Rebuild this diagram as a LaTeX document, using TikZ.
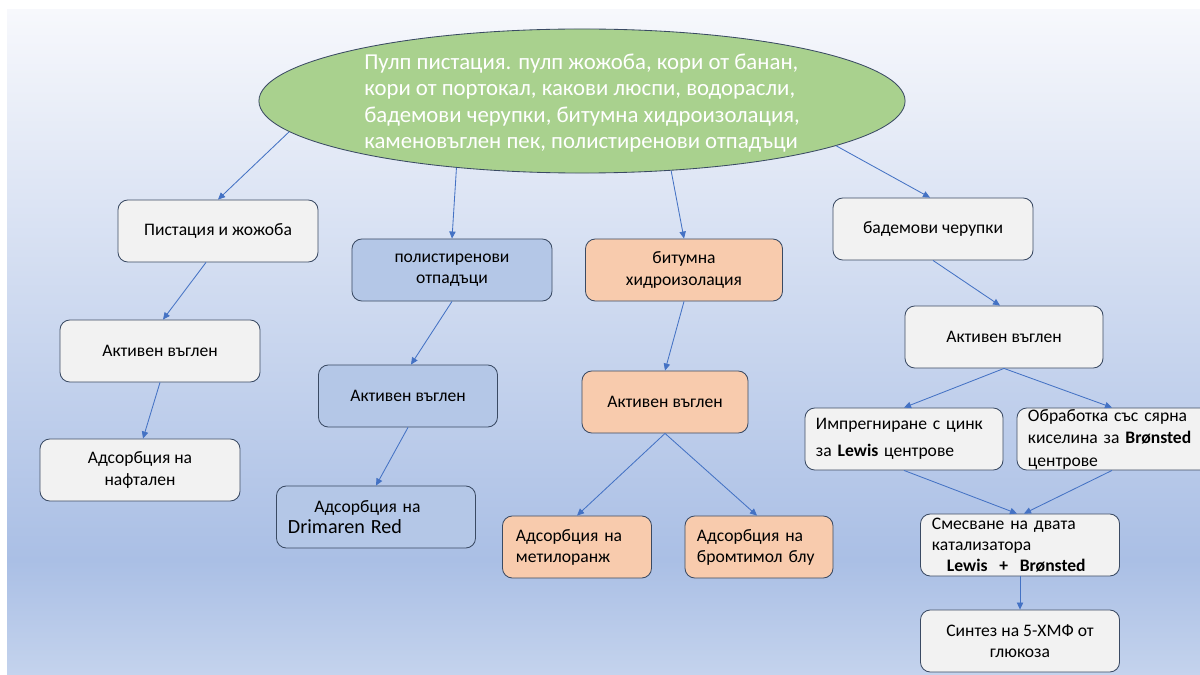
\documentclass[tikz,border=0pt]{standalone}
\usepackage{fontspec}
\setmainfont{Carlito}
\usetikzlibrary{shapes.geometric,arrows.meta,calc}
\definecolor{edge}{HTML}{3A4A63}
\definecolor{link}{HTML}{4472C4}
\definecolor{pale}{HTML}{F2F2F2}
\definecolor{steel}{HTML}{B4C7E7}
\definecolor{peach}{HTML}{F8CBAD}
\definecolor{leaf}{HTML}{A9D18E}
\definecolor{bgtop}{HTML}{F7F8FC}
\definecolor{bgmid}{HTML}{AABFE5}
\definecolor{bgbot}{HTML}{C4D3ED}
\tikzset{
  card/.style={draw=edge, line width=0.6pt, rounded corners=7pt, inner sep=0pt,
    minimum width=5cm, minimum height=1.55cm, align=center,
    font=\fontsize{12.5}{15}\selectfont},
  flow/.style={draw=link, line width=0.6pt, -{Triangle[length=5pt,width=4.5pt]}}
}
\begin{document}
\begin{tikzpicture}[x=0.025cm, y=-0.025cm]
\useasboundingbox (0,0) rectangle (1200,675);
\shade[top color=bgtop, bottom color=bgmid] (7,10) rectangle (1200,560);
\shade[top color=bgmid, bottom color=bgbot] (7,560) rectangle (1200,675);

\node[ellipse, draw=edge, fill=leaf, line width=0.6pt, inner sep=0pt,
  minimum width=16.15cm, minimum height=3.6cm] (src) at (582,101) {};
\node[text=white, align=left, font=\fontsize{16.2}{18.8}\selectfont] (srctxt) at (582,103)
  {Пулп пистация. пулп жожоба, кори от банан,\\
   кори от портокал, какови люспи, водорасли,\\
   бадемови черупки, битумна хидроизолация,\\
   каменовъглен пек, полистиренови отпадъци};

% left branch
\node[card, fill=pale] (pist) at (218,231) {Пистация и жожоба};
\node[card, fill=pale] (pistc) at (160,351) {Активен въглен};
\node[card, fill=pale] (naft) at (140,470) {Адсорбция на\\нафтален};

% polystyrene
\node[card, fill=steel] (poly) at (452,270) {полистиренови\\отпадъци};
\node[card, fill=steel, minimum width=4.475cm] (polyc) at (408,396) {Активен въглен};
\node[card, fill=steel, minimum width=4.975cm, align=left, text width=4.4cm] (drim) at (376,517)
  {\hspace*{0.66cm}Адсорбция на\\{\fontsize{14.3}{17}\selectfont Drimaren Red}};

% bitumen
\node[card, fill=peach, minimum width=4.925cm] (bit) at (684,270) {битумна\\хидроизолация};
\node[card, fill=peach, minimum width=4.15cm] (bitc) at (665,402) {Активен въглен};
\node[card, fill=peach, minimum width=3.725cm, align=left, text width=3.05cm] (metil) at (577,547)
  {Адсорбция на\\метилоранж};
\node[card, fill=peach, minimum width=3.7cm, align=left, text width=3.1cm] (brom) at (759,547)
  {Адсорбция на\\бромтимол блу};

% almond shells
\node[card, fill=pale] (badem) at (933,229) {бадемови черупки};
\node[card, fill=pale, minimum width=4.95cm] (bademc) at (1004,337) {Активен въглен};
\node[card, fill=pale, minimum width=4.95cm, align=left, text width=4.4cm,
  font=\fontsize{12.5}{19}\selectfont] (lewis) at (904,439)
  {Импрегниране с цинк\\за \textbf{Lewis} центрове};
\node[card, fill=pale, minimum width=4.95cm, align=left, text width=4.4cm,
  font=\fontsize{12.5}{16}\selectfont] (bron) at (1116,439)
  {Обработка със сярна\\киселина за \textbf{Brønsted}\\центрове};
\node[card, fill=pale, minimum width=4.975cm, align=left, text width=4.4cm] (mix) at (1020,545)
  {Смесване на двата\\катализатора\\\hspace*{0.375cm}\textbf{Lewis\ \ +\ \ Brønsted}};
\node[card, fill=pale, minimum width=4.975cm] (synth) at (1020,641) {Синтез на 5-ХМФ от\\глюкоза};

\draw[flow] (src.186) -- (pist.north);
\draw[flow] (src.208) -- (poly.north);
\draw[flow] (src.322) -- (bit.north);
\draw[flow] (src.350) -- ($(badem.north)+(-3,0)$);
\draw[flow] ($(pist.south)+(-12,0)$) -- ($(pistc.north)+(3,0)$);
\draw[flow] (pistc.south) -- ($(naft.north)+(3,0)$);
\draw[flow] (poly.south) -- ($(polyc.north)+(3,0)$);
\draw[flow] (polyc.south) -- (drim.north);
\draw[flow] (bit.south) -- (bitc.north);
\draw[flow] (bitc.south) -- (metil.north);
\draw[flow] (bitc.south) -- ($(brom.north)+(-2,0)$);
\draw[flow] (badem.south) -- ($(bademc.north)+(-4,0)$);
\draw[flow] (bademc.south) -- (lewis.north);
\draw[flow] (bademc.south) -- ($(bron.north)+(-4,0)$);
\draw[flow] (lewis.south) -- ($(mix.north)+(-3,0)$);
\draw[flow] ($(bron.south)+(-4,0)$) -- ($(mix.north)+(4,0)$);
\draw[flow] (mix.south) -- (synth.north);
\end{tikzpicture}
\end{document}
